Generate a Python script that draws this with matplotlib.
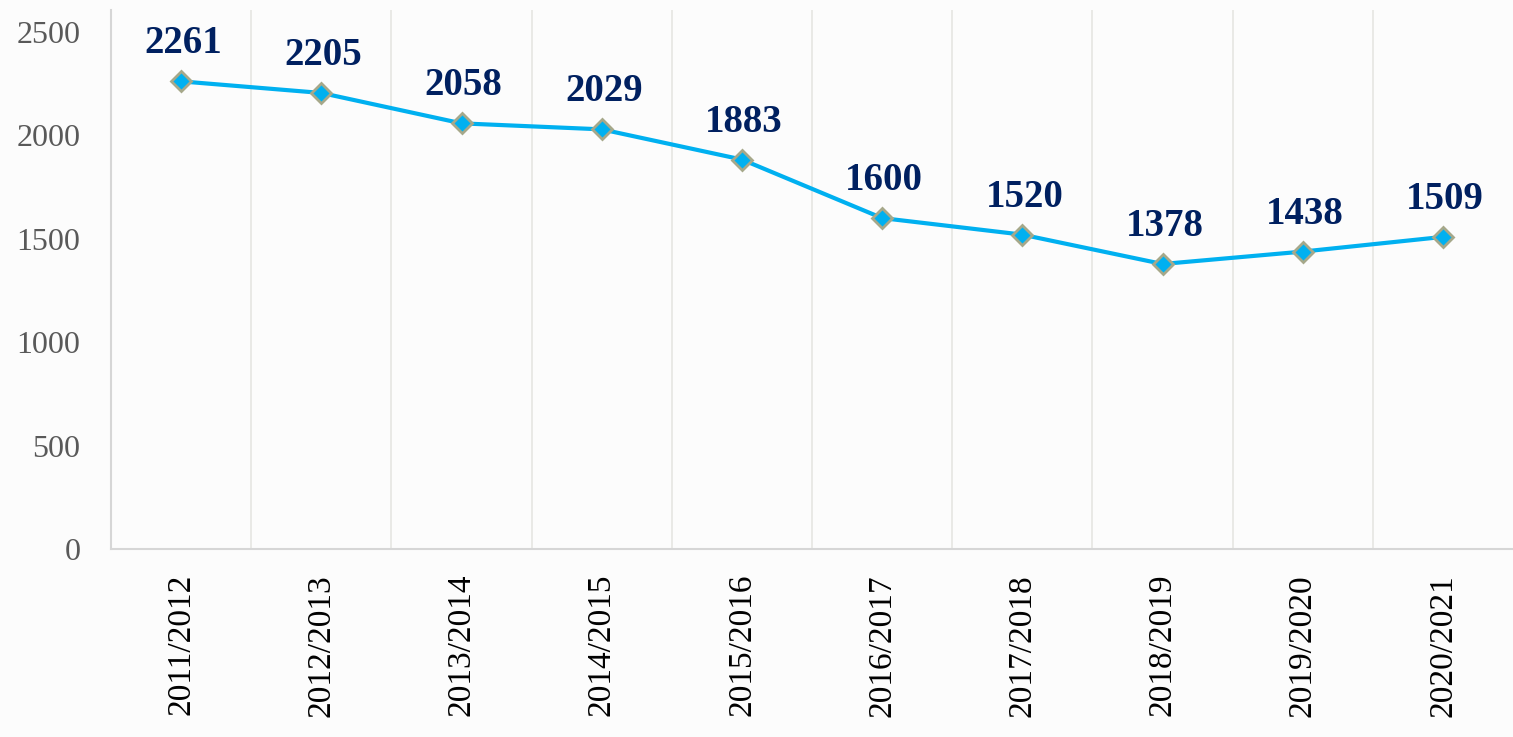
import matplotlib
matplotlib.use("Agg")
import matplotlib.pyplot as plt

categories = ["2011/2012", "2012/2013", "2013/2014", "2014/2015", "2015/2016",
              "2016/2017", "2017/2018", "2018/2019", "2019/2020", "2020/2021"]
values = [2261, 2205, 2058, 2029, 1883, 1600, 1520, 1378, 1438, 1509]
yticks = [0, 500, 1000, 1500, 2000, 2500]

fig = plt.figure(figsize=(15.13, 7.37), dpi=100)
fig.patch.set_facecolor("#fcfcfc")
ax = fig.add_axes([0.0734, 0.2551, 0.9266, 0.7313])
ax.set_facecolor("#fcfcfc")

x = list(range(len(categories)))
ax.plot(x, values, color="#00b0f0", linewidth=3.0, marker="D", markersize=10,
        markerfacecolor="#00b0f0", markeredgecolor="#a6a88a", markeredgewidth=2.0,
        zorder=3)

for xi, v in zip(x, values):
    ax.annotate(str(v), (xi, v), xytext=(2, 19), textcoords="offset pixels",
                ha="center", va="bottom", fontsize=28, fontweight="bold",
                family="Liberation Serif", color="#002060", zorder=4)

ax.set_xlim(-0.5, len(categories) - 0.5)
ax.set_ylim(0, 2606)
ax.set_yticks(yticks)
ax.set_yticklabels([str(t) for t in yticks], family="Liberation Serif",
                   fontsize=23, color="#595959")
ax.set_xticks(x)
ax.set_xticklabels(categories, rotation=90, family="Liberation Serif",
                   fontsize=24, color="#000000", va="top")
ax.tick_params(axis="both", length=0)
ax.tick_params(axis="y", pad=22)
ax.tick_params(axis="x", pad=18)

# vertical gridlines at category boundaries
for b in range(1, len(categories)):
    ax.axvline(b - 0.5, color="#e6e6e2", linewidth=1.2, zorder=1)

for s in ["top", "right"]:
    ax.spines[s].set_visible(False)
for s in ["left", "bottom"]:
    ax.spines[s].set_color("#d6d6d6")
    ax.spines[s].set_linewidth(1.5)

fig.savefig("out.png", dpi=100, facecolor=fig.get_facecolor())
